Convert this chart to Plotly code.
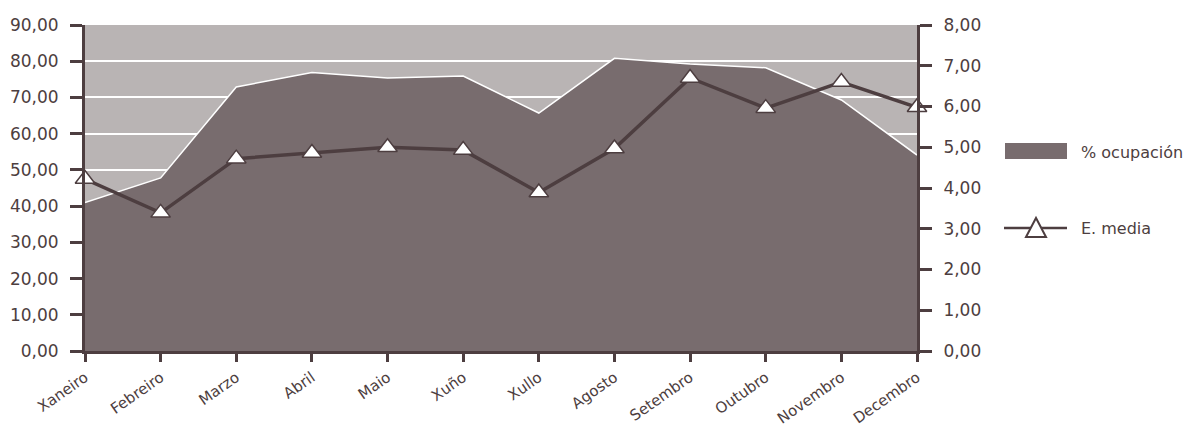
import plotly.graph_objects as go

months = ["Xaneiro", "Febreiro", "Marzo", "Abril", "Maio", "Xuño", "Xullo",
          "Agosto", "Setembro", "Outubro", "Novembro", "Decembro"]
ocupacion = [41.0, 47.8, 72.9, 76.9, 75.4, 75.9, 65.7, 80.8, 79.2, 78.2, 69.3, 54.1]
estancia = [4.22, 3.39, 4.72, 4.86, 5.0, 4.93, 3.89, 4.97, 6.7, 5.96, 6.6, 5.98]

left_ticks = [0, 10, 20, 30, 40, 50, 60, 70, 80, 90]
right_ticks = [0, 1, 2, 3, 4, 5, 6, 7, 8]
legend_names = ["% ocupación", "E. media"]

DARK = "#4d3e40"
AREA = "#786c6e"
BG = "#b9b4b4"
FONT = "DejaVu Sans"

# plot area in screen pixels (page has 8px body margin)
PX0, PX1, PY0, PY1 = 85, 917, 25, 351


def px(x):
    return (x - PX0) / (PX1 - PX0)


def py(y):
    return (PY1 - y) / (PY1 - PY0)


fig = go.Figure()
fig.add_trace(go.Scatter(
    x=months, y=ocupacion, name=legend_names[0], mode="lines",
    fill="tozeroy", fillcolor=AREA, line=dict(color="white", width=1.5),
    yaxis="y", showlegend=False))
fig.add_trace(go.Scatter(
    x=months, y=estancia, name=legend_names[1], mode="lines+markers",
    line=dict(color=DARK, width=3.5),
    marker=dict(symbol="triangle-up", size=17, color="white",
                line=dict(color=DARK, width=1.5)),
    cliponaxis=False, yaxis="y2", showlegend=False))

# manual legend
shapes = [
    dict(type="rect", xref="paper", yref="paper",
         x0=px(1005), x1=px(1067), y0=py(159), y1=py(143),
         fillcolor=AREA, line=dict(width=0)),
    dict(type="line", xref="paper", yref="paper",
         x0=px(1004), x1=px(1067), y0=py(228), y1=py(228),
         line=dict(color=DARK, width=2.5)),
    dict(type="path", xref="paper", yref="paper",
         path="M {:.5f} {:.5f} L {:.5f} {:.5f} L {:.5f} {:.5f} Z".format(
             px(1026), py(237), px(1036), py(218), px(1046), py(237)),
         fillcolor="white", line=dict(color=DARK, width=2)),
]
annotations = [
    dict(x=px(1079), y=py(152), xref="paper", yref="paper", text=legend_names[0],
         showarrow=False, xanchor="left", yanchor="middle",
         font=dict(size=16, color=DARK)),
    dict(x=px(1079), y=py(229), xref="paper", yref="paper", text=legend_names[1],
         showarrow=False, xanchor="left", yanchor="middle",
         font=dict(size=16, color=DARK)),
]

W, H = 1183, 421
l = PX0 - 8
t = PY0 - 8
r = W - l - (PX1 - PX0)
b = H - t - (PY1 - PY0)

fig.update_layout(
    width=W, height=H,
    margin=dict(l=l, r=r, t=t, b=b, autoexpand=False),
    paper_bgcolor="white", plot_bgcolor=BG,
    separators=",.",
    font=dict(family=FONT, size=17, color=DARK),
    showlegend=False,
    shapes=shapes, annotations=annotations,
    xaxis=dict(type="category", range=[0, 11], showgrid=False,
               showline=True, linecolor=DARK, linewidth=3,
               ticks="outside", ticklen=8, tickwidth=2.5, tickcolor=DARK,
               ticklabelstandoff=1,
               tickangle=-35, tickfont=dict(size=15), automargin=False),
    yaxis=dict(range=[0, 90], tickvals=left_ticks, tickformat=".2f",
               showgrid=True, gridcolor="white", gridwidth=2,
               showline=True, linecolor=DARK, linewidth=3,
               ticks="outside", ticklen=12, tickwidth=2.5, tickcolor=DARK,
               ticklabelstandoff=8, tickfont=dict(size=17),
               zeroline=False, automargin=False),
    yaxis2=dict(range=[0, 8], tickvals=right_ticks, tickformat=".2f",
                overlaying="y", side="right", showgrid=False,
                showline=True, linecolor=DARK, linewidth=3,
                ticks="outside", ticklen=12, tickwidth=2.5, tickcolor=DARK,
                ticklabelstandoff=8, tickfont=dict(size=17),
                zeroline=False, automargin=False),
)

fig.write_html("out.html")
